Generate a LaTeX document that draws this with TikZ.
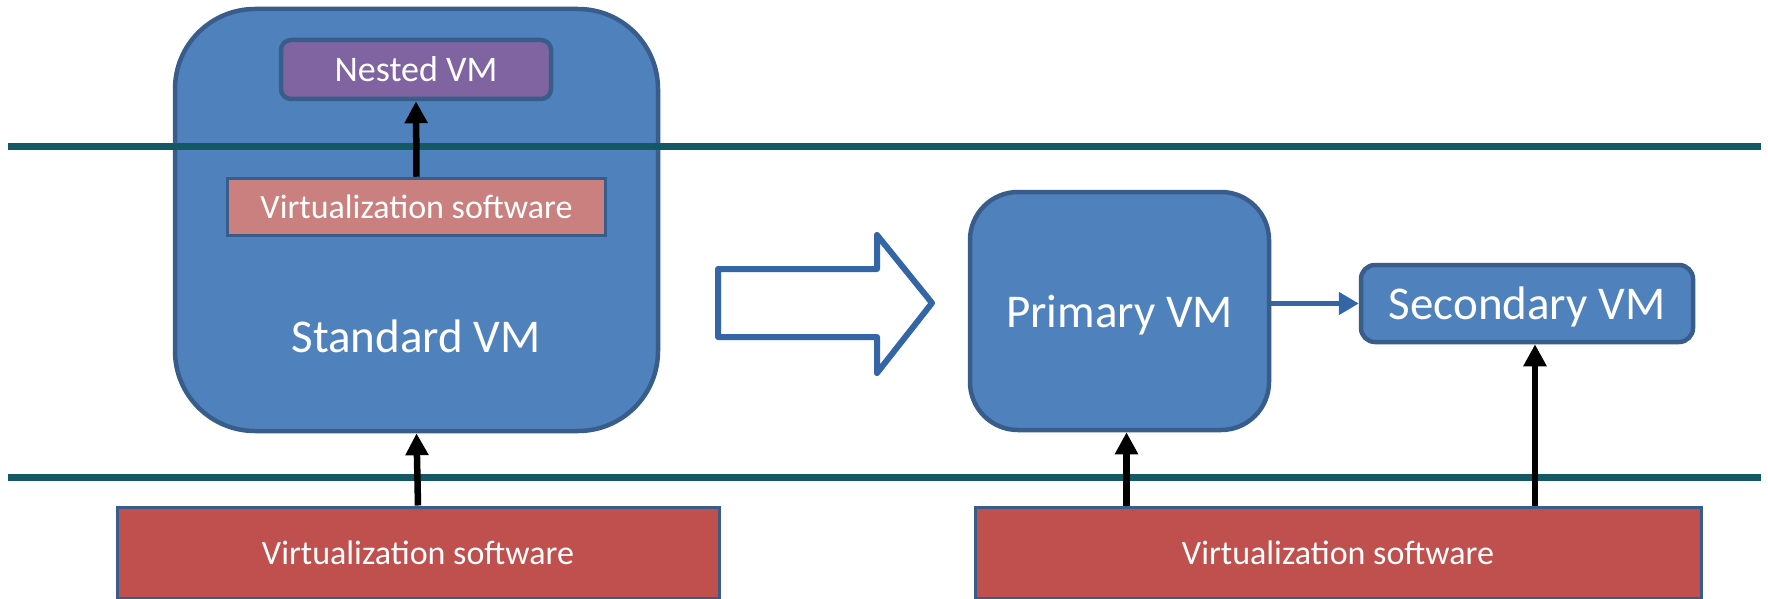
\documentclass[tikz,border=0pt]{standalone}
\usepackage{fontspec}
\setmainfont{Carlito}
\usetikzlibrary{arrows.meta}
\definecolor{vmblue}{RGB}{79,129,189}
\definecolor{vmborder}{RGB}{56,93,138}
\definecolor{nestpurple}{RGB}{128,100,162}
\definecolor{vspink}{RGB}{202,128,126}
\definecolor{vsred}{RGB}{192,80,77}
\definecolor{septeal}{RGB}{19,88,99}
\definecolor{arrblue}{RGB}{52,101,166}
\tikzset{
  bigtxt/.style={font=\fontsize{47}{56}\selectfont, text=white},
  capcenter/.style={text height=32pt, text depth=0pt},
  smalltxt/.style={font=\fontsize{34}{40}\selectfont, text=white},
  vmbox/.style={draw=vmborder, fill=vmblue, line width=4.5pt, inner sep=0pt, bigtxt},
  nestbox/.style={draw=vmborder, fill=nestpurple, line width=4.5pt, inner sep=0pt, font=\fontsize{36}{42}\selectfont, text=white},
  vsinner/.style={draw=vmborder, fill=vspink, line width=3.5pt, inner sep=0pt, smalltxt},
  vsbottom/.style={draw=vmborder, fill=vsred, line width=3pt, inner sep=0pt, smalltxt},
  sepline/.style={draw=septeal, line width=7pt},
  blk/.style={draw=black, line width=6.5pt, -{Triangle[width=22pt,length=22pt]}},
  bluearr/.style={draw=arrblue, line width=5pt, -{Triangle[width=22pt,length=20pt]}},
  hollow/.style={draw=arrblue, line width=6pt, line join=round, fill=white}
}
\begin{document}
\begin{tikzpicture}[x=1pt,y=-1pt]
\clip (0,0) rectangle (1768,599);
\fill[white] (0,0) rectangle (1768,599);
% Standard VM box
\node[vmbox, rounded corners=80pt, minimum width=483pt, minimum height=422pt] (std) at (416.5,220) {};
% separator lines
\coordinate (l1a) at (8,146);
\coordinate (l1b) at (1761,146);
\coordinate (l2a) at (8,477);
\coordinate (l2b) at (1761,477);
\draw[sepline] (l1a) -- (l1b);
\draw[sepline] (l2a) -- (l2b);
% inside standard VM
\node[bigtxt] (stdlabel) at (416,336) {Standard VM};
\node[nestbox, rounded corners=10pt, minimum width=270pt, minimum height=59pt] (nested) at (416,69.5) {Nested VM};
\node[vsinner, minimum width=378pt, minimum height=57pt] (vs1) at (416.5,207) {Virtualization software};
% right side
\node[vmbox, capcenter, rounded corners=48pt, minimum width=299pt, minimum height=238pt] (primary) at (1119.5,311) {Primary VM};
\node[vmbox, capcenter, rounded corners=14pt, minimum width=332pt, minimum height=77pt] (secondary) at (1527,303.5) {Secondary VM};
% bottom virtualization layers
\node[vsbottom, minimum width=602pt, minimum height=91pt] (vsl) at (418,552.5) {Virtualization software};
\node[vsbottom, minimum width=726pt, minimum height=91pt] (vsr) at (1338,552.5) {Virtualization software};
% hollow block arrow
\draw[hollow] (718,269) -- (877,269) -- (877,235) -- (932,303) -- (877,373) -- (877,337) -- (718,337) -- cycle;
% connectors
\draw[blk] (vs1.north) -- (nested.south);
\draw[blk] (vsl.north) -- (std.south);
\coordinate (pa) at ([xshift=7pt]primary.south);
\coordinate (sa) at ([xshift=8pt]secondary.south);
\draw[blk] (pa |- vsr.north) -- (pa);
\draw[blk] (sa |- vsr.north) -- (sa);
\draw[bluearr] (primary.east |- secondary.west) -- (secondary.west);
\end{tikzpicture}
\end{document}
